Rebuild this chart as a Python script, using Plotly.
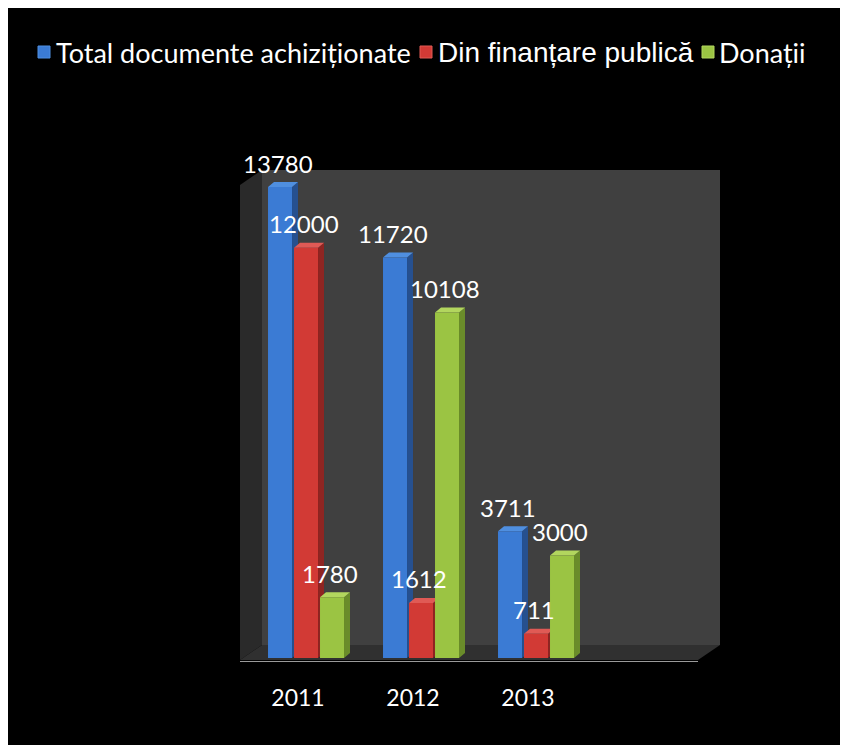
import plotly.graph_objects as go

# data
years = ["2011", "2012", "2013"]
total = [13780, 11720, 3711]
public = [12000, 1612, 711]
donations = [1780, 10108, 3000]

names = ["Total documente achiziționate", "Din finanțare publică", "Donații"]
series = [total, public, donations]
FRONT = ["#3b7bd4", "#d23a35", "#9bc443"]
SIDE = ["#26508f", "#8f2522", "#6a8c2a"]
TOP = ["#4f8fe0", "#e05a55", "#b2d65e"]
FONT = "Lato, 'Open Sans', sans-serif"
ARIAL = "'Liberation Sans', Arial, sans-serif"

# scale helpers (px per unit on each axis)
PX_X = 115.0
PX_Y = 0.03418
X0 = -0.574
X1 = X0 + 480 / PX_X
Y0 = -4 / PX_Y
Y1 = 488 / PX_Y

slot = 26 / PX_X
bw = 24 / PX_X
dx = 6 / PX_X      # bar depth
dy = 5 / PX_Y
wx = 22 / PX_X     # wall depth
wy = 15 / PX_Y

# page px -> paper coords (plot area is x 240..720, y 170..662 on the page)
def px(p):
    return (p - 240) / 480.0

def py(p):
    return (662 - p) / 492.0

fig = go.Figure()

# side and top faces (drawn under the fronts)
for i, vals in enumerate(series):
    sx, sy, tx, ty = [], [], [], []
    for c, v in enumerate(vals):
        xc = c + (i - 1) * slot
        xl, xr = xc - bw / 2, xc + bw / 2
        sx += [xr, xr + dx, xr + dx, xr, xr, None]
        sy += [0, dy, v + dy, v, 0, None]
        tx += [xl, xr, xr + dx, xl + dx, xl, None]
        ty += [v, v, v + dy, v + dy, v, None]
    fig.add_trace(go.Scatter(x=sx, y=sy, fill="toself", mode="lines",
                             line=dict(width=0), fillcolor=SIDE[i],
                             showlegend=False, hoverinfo="skip"))
    fig.add_trace(go.Scatter(x=tx, y=ty, fill="toself", mode="lines",
                             line=dict(width=0), fillcolor=TOP[i],
                             showlegend=False, hoverinfo="skip"))

# front faces
for i, vals in enumerate(series):
    xs = [c + (i - 1) * slot for c in range(len(years))]
    fig.add_trace(go.Bar(x=xs, y=vals, width=bw, name=names[i], showlegend=False,
                         marker=dict(color=FRONT[i], line=dict(width=0)),
                         xaxis="x2", yaxis="y2"))
    for x, v in zip(xs, vals):
        fig.add_annotation(x=x, y=v, xref="x2", yref="y2", text=str(v),
                           showarrow=False, yanchor="middle", yshift=24, xshift=-2,
                           font=dict(family=FONT, size=24, color="white"))

# walls and floor
shapes = [
    dict(type="rect", x0=X0 + wx, x1=X1, y0=wy - 2 / PX_Y, y1=Y1,
         fillcolor="#404040", line=dict(width=0), layer="below"),
    dict(type="path", path=f"M {X0},{Y1 - wy} L {X0 + wx},{Y1} L {X0 + wx},{wy - 2 / PX_Y} "
                          f"L {X0},{-2 / PX_Y} Z",
         fillcolor="#2a2a2a", line=dict(width=0), layer="below"),
    dict(type="path", path=f"M {X0},{-2 / PX_Y} L {X0 + wx},{wy - 2 / PX_Y} L {X1},{wy - 2 / PX_Y} "
                          f"L {X1 - wx},{-2 / PX_Y} Z",
         fillcolor="#303030", line=dict(width=0), layer="below"),
    dict(type="line", x0=X0, x1=X1 - wx, y0=-4 / PX_Y, y1=-4 / PX_Y,
         line=dict(color="#9a9a9a", width=2), layer="below"),
]

# legend drawn by hand: marker square + label
legend_marker_x = [38, 420, 702]
legend_text_x = [54, 436, 717]
legend_fonts = [dict(family=FONT, size=27), dict(family=ARIAL, size=28), dict(family=FONT, size=27)]
for i in range(3):
    shapes.append(dict(type="rect", xref="paper", yref="paper",
                       x0=px(legend_marker_x[i]), x1=px(legend_marker_x[i] + 12),
                       y0=py(58), y1=py(46), fillcolor=FRONT[i],
                       line=dict(color=TOP[i], width=1)))
    fig.add_annotation(x=px(legend_text_x[i]), y=py(52), xref="paper", yref="paper",
                       text=names[i], showarrow=False, xanchor="left", yanchor="middle",
                       font=dict(color="white", **legend_fonts[i]))

fig.update_layout(
    width=841, height=737,
    margin=dict(l=232, r=129, t=162, b=83),
    paper_bgcolor="black", plot_bgcolor="rgba(0,0,0,0)",
    font=dict(family=FONT, color="white"),
    barmode="overlay", showlegend=False,
    shapes=shapes,
    xaxis=dict(range=[X0, X1], tickvals=[0, 1, 2], ticktext=years,
               showgrid=False, zeroline=False, showline=False, ticks="",
               tickfont=dict(family=FONT, size=23, color="white"),
               ticklabelstandoff=20, ticklabelshift=-8),
    yaxis=dict(range=[Y0, Y1], visible=False, showgrid=False),
    xaxis2=dict(range=[X0, X1], overlaying="x", visible=False),
    yaxis2=dict(range=[Y0, Y1], overlaying="y", visible=False),
)

fig.write_html("out.html")
